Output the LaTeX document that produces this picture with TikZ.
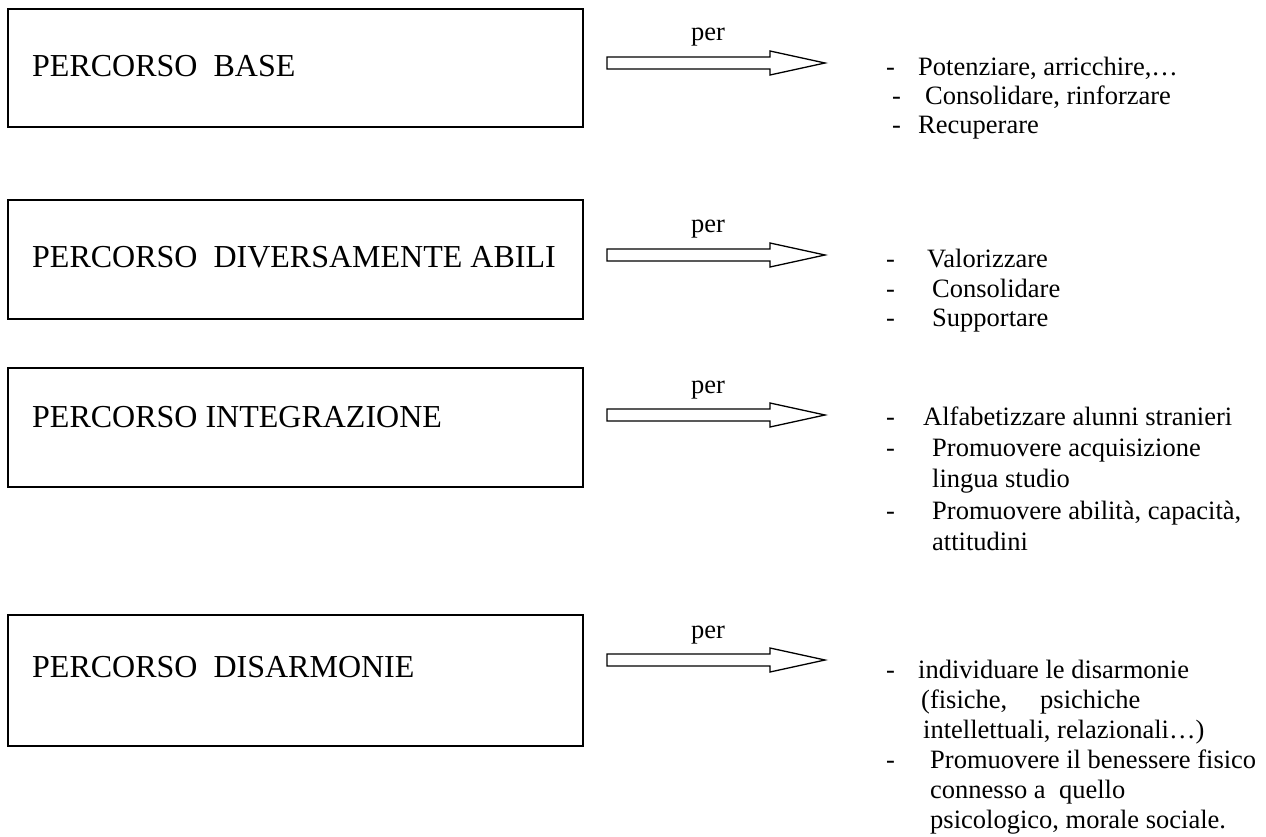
\documentclass[tikz,border=0pt]{standalone}
\usepackage{fontspec}
\setmainfont{Liberation Serif}
\begin{document}
\begin{tikzpicture}[x=1pt,y=-1pt,
  pbox/.style={draw,line width=1.7pt},
  ptitle/.style={anchor=base west,inner sep=0pt,font=\fontsize{32}{36}\selectfont},
  itm/.style={anchor=base west,inner sep=0pt,font=\fontsize{26.5}{30}\selectfont},
  perlbl/.style={anchor=base,inner sep=0pt,font=\fontsize{26.5}{30}\selectfont},
  fatarrow/.style={draw,line width=1.3pt,line join=miter}]
\useasboundingbox (0,0) rectangle (1266,837);
% boxes
\draw[pbox] (8,9) rectangle (583,127);
\draw[pbox] (8,200) rectangle (583,319);
\draw[pbox] (8,368) rectangle (583,487);
\draw[pbox] (8,615) rectangle (583,746);
\node[ptitle] (t1) at (32,77) {PERCORSO\ \ BASE};
\node[ptitle] (t2) at (32,267) {PERCORSO\ \ DIVERSAMENTE ABILI};
\node[ptitle] (t3) at (32,427) {PERCORSO INTEGRAZIONE};
\node[ptitle] (t4) at (32,677) {PERCORSO\ \ DISARMONIE};
% arrows
\foreach \n/\y in {1/63,2/255,3/415,4/660}{
  \coordinate (a\n) at (607,\y);
  \draw[fatarrow] (a\n) ++(0,-6) -- ++(163,0) -- ++(0,-6) -- ++(55,12) -- ++(-55,12) -- ++(0,-6) -- ++(-163,0) -- cycle;
  \node[perlbl] (p\n) at (708,\y-22) {per};
}
% list 1
\node[itm] (d11) at (886,76) {-};
\node[itm] (i11) at (918,76) {Potenziare, arricchire,\dots};
\node[itm] (d12) at (892,105) {-};
\node[itm] (i12) at (925,105) {Consolidare, rinforzare};
\node[itm] (d13) at (892,134) {-};
\node[itm] (i13) at (918,134) {Recuperare};
% list 2
\node[itm] (d21) at (886,267) {-};
\node[itm] (i21) at (927,267) {Valorizzare};
\node[itm] (d22) at (886,297) {-};
\node[itm] (i22) at (932,297) {Consolidare};
\node[itm] (d23) at (886,326) {-};
\node[itm] (i23) at (932,326) {Supportare};
% list 3
\node[itm] (d31) at (886,425) {-};
\node[itm] (i31) at (923,425) {Alfabetizzare alunni stranieri};
\node[itm] (d32) at (886,456) {-};
\node[itm] (i32) at (932,456) {Promuovere acquisizione};
\node[itm] (i33) at (932,487) {lingua studio};
\node[itm] (d34) at (886,519) {-};
\node[itm] (i34) at (932,519) {Promuovere abilità, capacità,};
\node[itm] (i35) at (932,550) {attitudini};
% list 4
\node[itm] (d41) at (886,678) {-};
\node[itm] (i41) at (918,678) {individuare le disarmonie};
\node[itm] (i42) at (921,708) {(fisiche,};
\node[itm] (i42b) at (1040,708) {psichiche};
\node[itm] (i43) at (923,738) {intellettuali, relazionali\dots)};
\node[itm] (d44) at (886,768) {-};
\node[itm] (i44) at (930,768) {Promuovere il benessere fisico};
\node[itm] (i45) at (930,798) {connesso a\ \ quello};
\node[itm] (i46) at (930,828) {psicologico, morale sociale.};
\end{tikzpicture}
\end{document}
